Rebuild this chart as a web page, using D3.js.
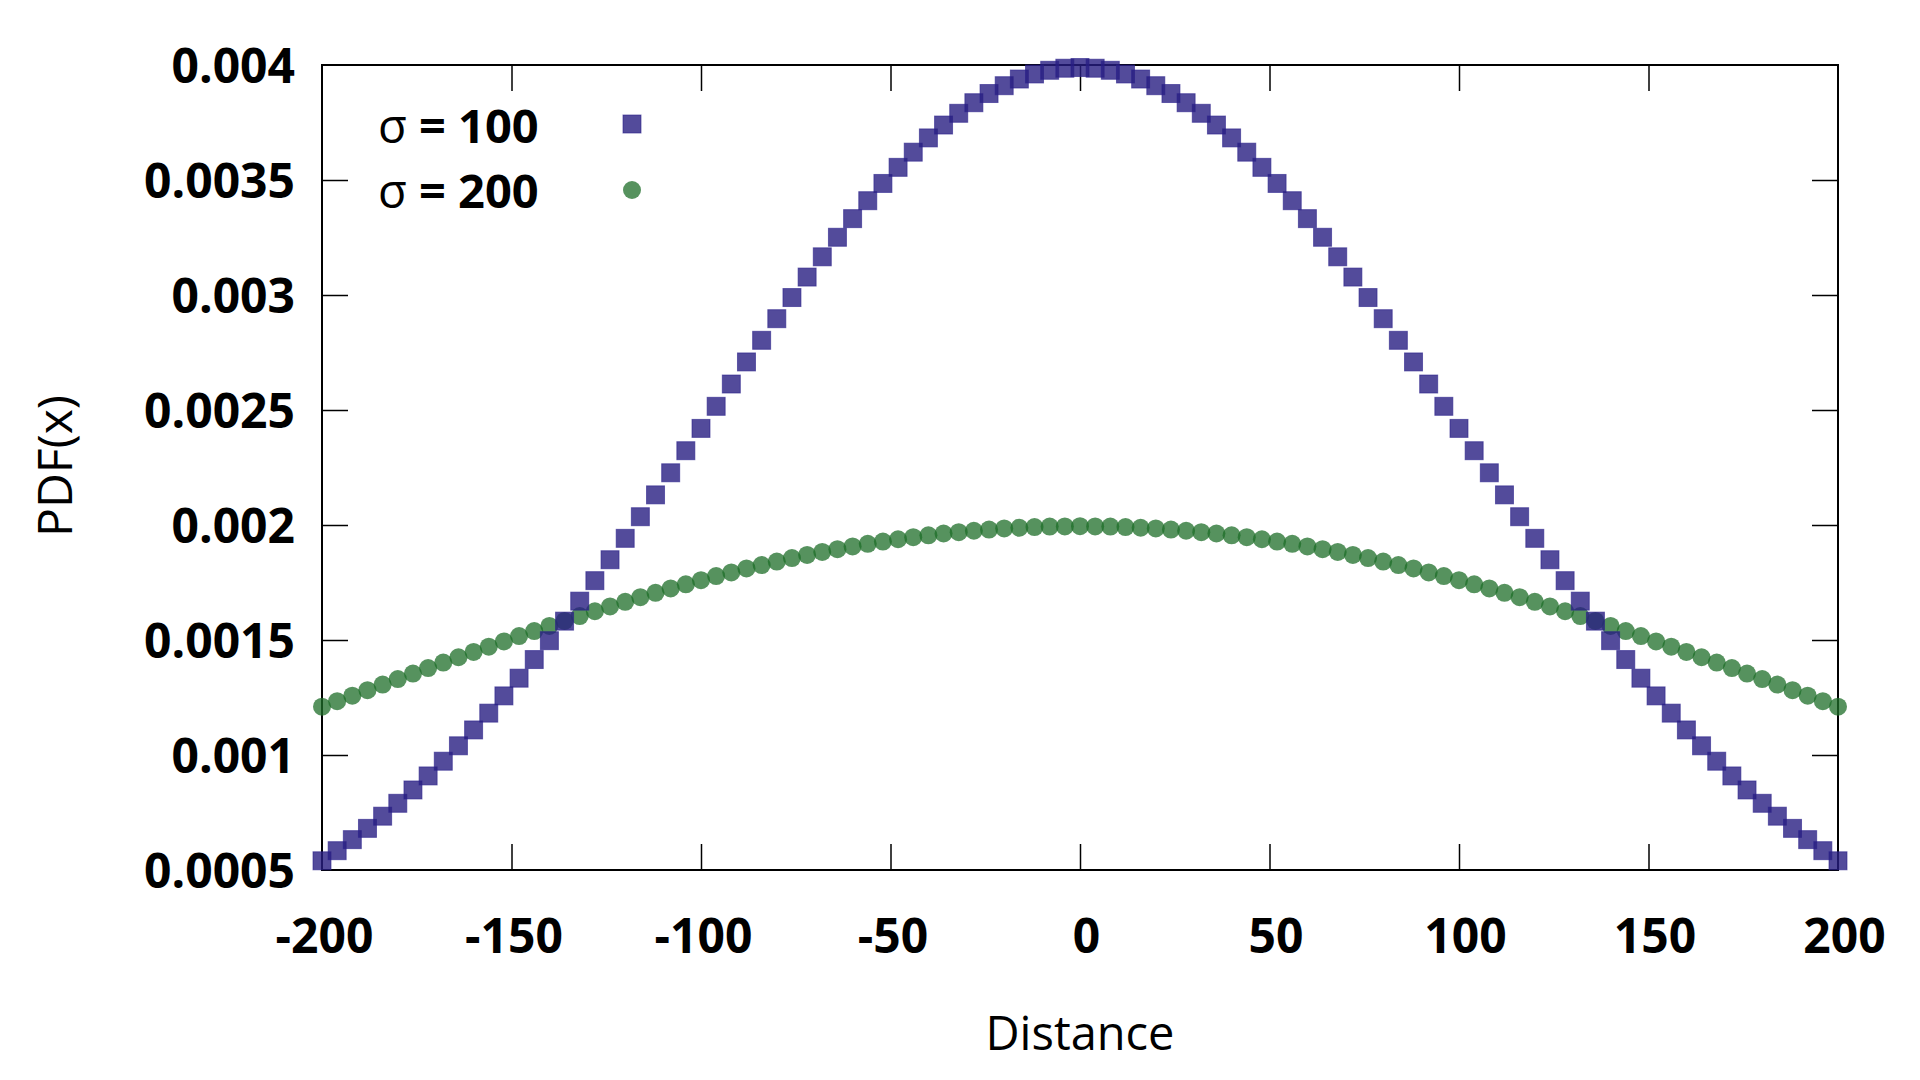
<!DOCTYPE html>
<html>
<head>
<meta charset="utf-8">
<script src="https://cdn.jsdelivr.net/npm/d3@7"></script>
<style>
  body { margin: 0; background: #fff; }
  svg { display: block; }
  svg text { font-family: "Open Sans", "Noto Sans", sans-serif; }
</style>
</head>
<body>
<svg id="chart" width="1920" height="1080"></svg>
<script>
// distance values (x axis)
let distances = [
  -200, -196, -192, -188, -184, -180, -176, -172, -168, -164, -160, -156, -152, -148, -144, -140, -136,
  -132, -128, -124, -120, -116, -112, -108, -104, -100, -96, -92, -88, -84, -80, -76, -72, -68, -64,
  -60, -56, -52, -48, -44, -40, -36, -32, -28, -24, -20, -16, -12, -8, -4, 0, 4, 8, 12, 16, 20, 24,
  28, 32, 36, 40, 44, 48, 52, 56, 60, 64, 68, 72, 76, 80, 84, 88, 92, 96, 100, 104, 108, 112, 116,
  120, 124, 128, 132, 136, 140, 144, 148, 152, 156, 160, 164, 168, 172, 176, 180, 184, 188, 192, 196, 200
];

// PDF values, sigma = 100
let pdf100 = [
  0.000540, 0.000584, 0.000632, 0.000681, 0.000734, 0.000790, 0.000848, 0.000909, 0.000973, 0.001040,
  0.001109, 0.001182, 0.001257, 0.001334, 0.001415, 0.001497, 0.001582, 0.001669, 0.001758, 0.001849,
  0.001942, 0.002036, 0.002131, 0.002227, 0.002323, 0.002420, 0.002516, 0.002613, 0.002709, 0.002803,
  0.002897, 0.002989, 0.003078, 0.003166, 0.003251, 0.003332, 0.003410, 0.003485, 0.003555, 0.003621,
  0.003683, 0.003739, 0.003790, 0.003836, 0.003876, 0.003910, 0.003939, 0.003961, 0.003977, 0.003986,
  0.003989,
  0.003986, 0.003977, 0.003961, 0.003939, 0.003910, 0.003876, 0.003836, 0.003790, 0.003739, 0.003683,
  0.003621, 0.003555, 0.003485, 0.003410, 0.003332, 0.003251, 0.003166, 0.003078, 0.002989, 0.002897,
  0.002803, 0.002709, 0.002613, 0.002516, 0.002420, 0.002323, 0.002227, 0.002131, 0.002036, 0.001942,
  0.001849, 0.001758, 0.001669, 0.001582, 0.001497, 0.001415, 0.001334, 0.001257, 0.001182, 0.001109,
  0.001040, 0.000973, 0.000909, 0.000848, 0.000790, 0.000734, 0.000681, 0.000632, 0.000584, 0.000540
];

// PDF values, sigma = 200
let pdf200 = [
  0.001210, 0.001234, 0.001258, 0.001282, 0.001306, 0.001330, 0.001354, 0.001378, 0.001402, 0.001425,
  0.001448, 0.001471, 0.001494, 0.001517, 0.001539, 0.001561, 0.001583, 0.001604, 0.001625, 0.001646,
  0.001666, 0.001686, 0.001705, 0.001724, 0.001742, 0.001760, 0.001778, 0.001794, 0.001811, 0.001826,
  0.001841, 0.001856, 0.001870, 0.001883, 0.001895, 0.001907, 0.001918, 0.001928, 0.001938, 0.001947,
  0.001955, 0.001963, 0.001969, 0.001975, 0.001980, 0.001985, 0.001988, 0.001991, 0.001993, 0.001994,
  0.001995,
  0.001994, 0.001993, 0.001991, 0.001988, 0.001985, 0.001980, 0.001975, 0.001969, 0.001963, 0.001955,
  0.001947, 0.001938, 0.001928, 0.001918, 0.001907, 0.001895, 0.001883, 0.001870, 0.001856, 0.001841,
  0.001826, 0.001811, 0.001794, 0.001778, 0.001760, 0.001742, 0.001724, 0.001705, 0.001686, 0.001666,
  0.001646, 0.001625, 0.001604, 0.001583, 0.001561, 0.001539, 0.001517, 0.001494, 0.001471, 0.001448,
  0.001425, 0.001402, 0.001378, 0.001354, 0.001330, 0.001306, 0.001282, 0.001258, 0.001234, 0.001210
];

let xTicks = [-200, -150, -100, -50, 0, 50, 100, 150, 200];
let yTicks = [0.0005, 0.001, 0.0015, 0.002, 0.0025, 0.003, 0.0035, 0.004];
let seriesNames = ["100", "200"];

let svg = d3.select("#chart");

let plotLeft = 322, plotRight = 1838, plotTop = 65, plotBottom = 870;

let xScale = d3.scaleLinear().domain([-200, 200]).range([plotLeft, plotRight]);
let yScale = d3.scaleLinear().domain([0.0005, 0.004]).range([plotBottom, plotTop]);

let tickLen = 26;

// axes with inward ticks (mirrored on top / right like gnuplot)
let gx = svg.append("g")
    .attr("transform", "translate(0," + plotBottom + ")")
    .call(d3.axisBottom(xScale).tickValues(xTicks).tickSize(-tickLen).tickPadding(49)
        .tickFormat(d => String(d)));
let gxTop = svg.append("g")
    .attr("transform", "translate(0," + plotTop + ")")
    .call(d3.axisTop(xScale).tickValues(xTicks).tickSize(-tickLen).tickFormat(""));
let gy = svg.append("g")
    .attr("transform", "translate(" + plotLeft + ",0)")
    .call(d3.axisLeft(yScale).tickValues(yTicks).tickSize(-tickLen).tickPadding(27)
        .tickFormat(d => String(+d.toFixed(4))));
let gyRight = svg.append("g")
    .attr("transform", "translate(" + plotRight + ",0)")
    .call(d3.axisRight(yScale).tickValues(yTicks).tickSize(-tickLen).tickFormat(""));

[gx, gxTop, gy, gyRight].forEach(g => {
    g.attr("font-family", null).attr("font-size", null);
    g.select(".domain").remove();
    g.selectAll(".tick line").attr("stroke", "#000").attr("stroke-width", 1.5);
});

// skip the ticks that coincide with the frame
[gx, gxTop].forEach(g => g.selectAll(".tick").filter(d => d == -200 || d == 200).select("line").remove());
[gy, gyRight].forEach(g => g.selectAll(".tick").filter(d => d == 0.0005 || d == 0.004).select("line").remove());

gx.selectAll("text")
    .attr("fill", "#000")
    .attr("dx", d => d < 0 ? 2 : 6)
    .style("font-size", "48px")
    .style("font-weight", "bold");
gy.selectAll("text")
    .attr("fill", "#000")
    .attr("dy", "0.36em")
    .style("font-size", "48px")
    .style("font-weight", "bold");

// frame
svg.append("rect")
    .attr("x", plotLeft)
    .attr("y", plotTop)
    .attr("width", plotRight - plotLeft)
    .attr("height", plotBottom - plotTop)
    .attr("fill", "none")
    .attr("stroke", "#000")
    .attr("stroke-width", 2);

// sigma = 200 : circles
let pts200 = distances.map((d, i) => ({ x: d, y: pdf200[i] }));
svg.append("g").selectAll("circle")
    .data(pts200)
    .enter().append("circle")
    .attr("cx", d => xScale(d.x))
    .attr("cy", d => yScale(d.y))
    .attr("r", 9)
    .attr("fill", "#1e6e28")
    .attr("fill-opacity", 0.75);

// sigma = 100 : squares
let pts100 = distances.map((d, i) => ({ x: d, y: pdf100[i] }));
let sq = 18;
svg.append("g").selectAll("rect")
    .data(pts100)
    .enter().append("rect")
    .attr("x", d => xScale(d.x) - sq / 2)
    .attr("y", d => yScale(d.y) - sq / 2)
    .attr("width", sq)
    .attr("height", sq)
    .attr("fill", "#281e82")
    .attr("fill-opacity", 0.8)
    .attr("stroke", "#2a1f8a")
    .attr("stroke-opacity", 0.6)
    .attr("stroke-width", 1);

// legend
let legend = svg.append("g");
seriesNames.forEach((name, i) => {
    let ly = 143 + i * 65;
    let t = legend.append("text")
        .attr("x", 378)
        .attr("y", ly)
        .attr("fill", "#000")
        .style("font-size", "47px");
    t.append("tspan").text("σ ");
    t.append("tspan").style("font-weight", "bold").text("= " + name);
});
legend.append("rect")
    .attr("x", 632 - sq / 2).attr("y", 124 - sq / 2)
    .attr("width", sq).attr("height", sq)
    .attr("fill", "#281e82").attr("fill-opacity", 0.8)
    .attr("stroke", "#2a1f8a").attr("stroke-opacity", 0.6);
legend.append("circle")
    .attr("cx", 632).attr("cy", 190).attr("r", 9)
    .attr("fill", "#1e6e28").attr("fill-opacity", 0.75);

// axis titles
svg.append("text")
    .attr("x", (plotLeft + plotRight) / 2)
    .attr("y", 1050)
    .attr("text-anchor", "middle")
    .attr("fill", "#000")
    .style("font-size", "47px")
    .text("Distance");

svg.append("text")
    .attr("transform", "translate(72," + 466 + ") rotate(-90)")
    .attr("text-anchor", "middle")
    .attr("fill", "#000")
    .style("font-size", "48px")
    .text("PDF(x)");
</script>
</body>
</html>
